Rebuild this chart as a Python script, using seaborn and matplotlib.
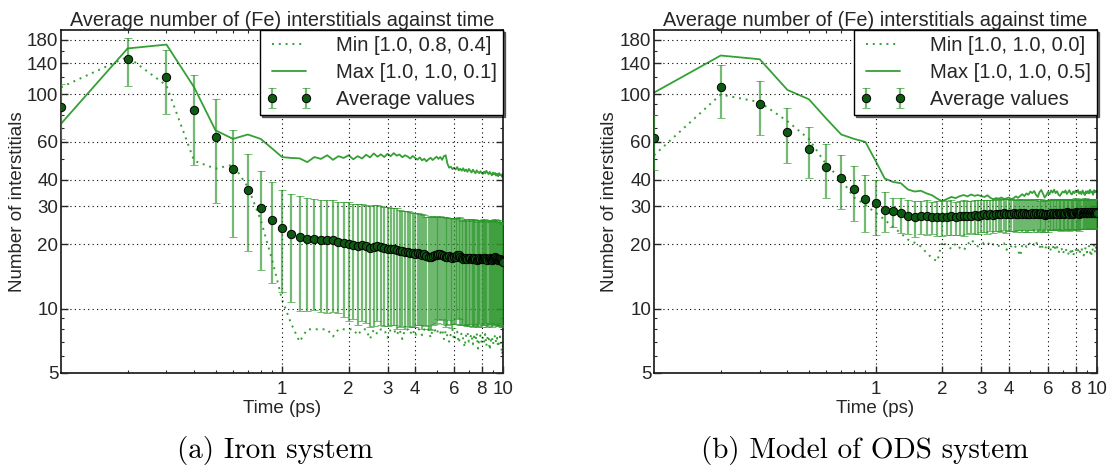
import numpy as np
import pandas as pd
import matplotlib
matplotlib.use("Agg")
import matplotlib.pyplot as plt
import matplotlib.ticker as mticker
import seaborn as sns

# time axis (ps), sampled every 0.1 ps
time_ps = np.round(np.arange(1, 101) * 0.1, 1)

# ---- (a) Iron system ----
avg_fe = [87, 147, 121, 85, 63, 45, 35.6, 29.6, 26, 23.9,
          22.4, 21.7, 21.2, 21.1, 20.8, 20.9, 20.8, 20.5, 20.2, 20.0,
          19.9, 19.6, 19.8, 19.5, 19.2, 19.4, 19.5, 19.3, 19.1, 19.0,
          19.0, 18.9, 18.7, 18.6, 18.5, 18.3, 18.4, 18.2, 18.1, 18.0,
          18.1, 18.0, 17.8, 17.9, 17.6, 17.4, 17.5, 17.6, 17.8, 17.7,
          17.9, 18.0, 17.8, 17.6, 17.5, 17.4, 17.6, 17.5, 17.3, 17.4,
          17.5, 17.7, 17.8, 17.5, 17.2, 17.1, 17.3, 17.2, 17.0, 17.2,
          17.3, 17.1, 17.0, 17.2, 17.1, 16.9, 17.0, 17.2, 17.1, 17.0,
          17.1, 17.3, 17.2, 17.0, 16.9, 17.1, 17.2, 17.0, 16.9, 17.1,
          17.2, 17.4, 17.3, 17.0, 16.8, 16.9, 17.1, 16.9, 16.6, 16.5]
err_fe = [25, 37, 40, 38, 32, 23.5, 17, 14.5, 12.8, 12,
          11.7, 12, 11.5, 11.3, 11.2, 11.4, 11.2, 11.0, 11.1, 11.3,
          11.0, 11.2, 11.1, 10.9, 11.0, 11.1, 10.8, 10.9, 10.8, 10.7,
          10.6, 10.5, 10.7, 10.4, 10.2, 10.3, 10.1, 10.0, 9.9, 9.8,
          9.7, 9.6, 9.8, 9.5, 9.3, 9.4, 9.6, 9.2, 9.3, 9.1,
          9.0, 9.2, 8.9, 9.1, 9.3, 9.0, 8.8, 9.0, 9.2, 8.9,
          9.0, 8.7, 8.9, 9.1, 8.8, 8.6, 8.9, 8.8, 8.7, 8.9,
          8.8, 8.6, 8.8, 8.9, 8.7, 8.6, 8.8, 8.7, 8.5, 8.8,
          8.7, 8.9, 8.6, 8.5, 8.7, 8.8, 8.6, 8.5, 8.7, 8.6,
          8.8, 8.9, 8.7, 8.6, 8.5, 8.6, 8.7, 8.5, 8.4, 8.3]
max_fe = [73, 164, 171, 108, 68, 62, 65, 62, 56, 51,
          50.5, 50.3, 48.3, 51, 50, 52, 49.5, 51.5, 50.5, 52,
          49.8, 51.5, 50.2, 52.3, 50.8, 53.0, 51.2, 52.5, 51.0, 52.8,
          51.5, 53.2, 51.8, 52.4, 50.9, 52.0, 51.3, 50.2, 51.6, 50.5,
          49.6, 50.8, 49.2, 50.1, 48.7, 49.8, 50.6, 49.4, 50.3, 51.2,
          50.0, 51.0, 49.5, 51.5, 52.0, 47.5, 45.5, 46.0, 44.8, 45.5,
          44.6, 45.8, 44.2, 45.0, 44.0, 45.2, 43.8, 44.6, 43.5, 44.9,
          44.0, 43.2, 44.5, 43.6, 42.8, 44.2, 43.4, 42.9, 43.8, 43.0,
          42.5, 43.6, 42.8, 44.0, 43.1, 42.4, 43.5, 42.7, 41.9, 43.2,
          42.3, 43.0, 41.8, 42.6, 41.5, 42.9, 41.9, 42.3, 41.2, 42.5]
min_fe = [108, 150, 110, 49, 45, 47, 37, 26, 17, 11,
          8.5, 7.0, 8.0, 8.0, 8.0, 8.0, 7.4, 8.0, 8.0, 8.0,
          8.0, 7.5, 8.0, 8.0, 7.2, 8.0, 7.6, 8.0, 8.0, 7.3,
          8.0, 8.0, 7.5, 8.0, 7.2, 8.0, 8.0, 7.6, 8.0, 7.4,
          8.0, 8.0, 7.5, 8.0, 7.8, 8.0, 7.3, 8.0, 8.0, 7.6,
          8.0, 7.7, 8.0, 7.2, 7.9, 7.4, 7.0, 7.6, 8.0, 7.1,
          7.5, 7.8, 6.9, 7.4, 7.7, 7.2, 6.6, 7.5, 7.8, 7.0,
          7.3, 7.6, 6.8, 7.4, 7.1, 7.7, 6.5, 7.2, 7.5, 6.9,
          7.4, 7.0, 7.6, 6.7, 7.3, 7.5, 6.4, 7.1, 7.4, 6.8,
          7.2, 7.5, 6.9, 7.3, 6.6, 7.1, 7.4, 6.7, 6.1, 6.9]

# ---- (b) Model of ODS system ----
avg_ods = [62.4, 108, 90, 67, 55.5, 46, 40.7, 36, 32.5, 31,
           29, 28.5, 27.8, 27.2, 26.8, 27.0, 27.1, 26.9, 26.8, 26.9,
           26.9, 27.0, 26.8, 27.0, 27.1, 27.0, 27.2, 27.3, 27.1, 27.4,
           27.5, 27.3, 27.6, 27.4, 27.7, 27.5, 27.6, 27.8, 27.5, 27.7,
           27.6, 27.8, 27.5, 27.7, 27.9, 27.6, 27.8, 27.5, 27.7, 27.6,
           27.8, 27.6, 27.9, 27.7, 27.5, 27.8, 27.6, 27.4, 27.7, 27.5,
           27.7, 27.9, 27.6, 27.8, 28.0, 27.7, 27.9, 27.6, 27.8, 28.0,
           27.7, 27.9, 28.1, 27.8, 27.6, 27.9, 28.0, 27.7, 27.9, 28.1,
           27.8, 28.0, 27.7, 27.9, 28.1, 27.8, 28.0, 28.2, 27.9, 28.0,
           28.1, 27.8, 28.0, 28.2, 27.9, 28.1, 27.8, 28.0, 28.2, 28.0]
err_ods = [18, 30, 25.5, 19, 15, 13, 11.5, 10.4, 9.6, 9,
           6.2, 4.5, 5.2, 4.9, 5.1, 4.8, 5.0, 4.7, 4.9, 5.1,
           4.8, 5.0, 4.7, 4.9, 5.2, 4.8, 4.6, 5.0, 4.9, 4.7,
           4.8, 5.0, 4.6, 4.9, 4.7, 4.5, 4.8, 4.6, 4.9, 4.7,
           4.5, 4.8, 4.6, 4.4, 4.7, 4.9, 4.5, 4.6, 4.8, 4.4,
           4.6, 4.7, 4.5, 4.8, 4.4, 4.6, 4.7, 4.5, 4.3, 4.6,
           4.5, 4.7, 4.4, 4.6, 4.5, 4.3, 4.6, 4.4, 4.7, 4.5,
           4.4, 4.6, 4.5, 4.3, 4.5, 4.6, 4.4, 4.5, 4.3, 4.6,
           4.5, 4.4, 4.6, 4.3, 4.5, 4.4, 4.6, 4.5, 4.3, 4.4,
           4.5, 4.3, 4.6, 4.4, 4.5, 4.3, 4.4, 4.6, 4.4, 4.5]
max_ods = [102, 152, 146, 105, 95, 77, 65, 62, 60, 49,
           40.5, 39, 38.5, 36, 35.2, 35.5, 34.5, 33.8, 32.6, 31.7,
           32.5, 33.2, 32.8, 33.5, 33.9, 33.4, 34.1, 33.6, 33.9, 33.5,
           33.2, 33.8, 32.9, 32.4, 32.8, 32.6, 33.0, 32.5, 32.7, 33.0,
           32.4, 32.8, 33.4, 32.9, 33.6, 34.2, 33.5, 34.5, 34.0, 35.2,
           34.6, 35.4, 34.0, 33.2, 35.0, 35.8, 34.4, 33.0, 33.8, 35.0,
           34.2, 35.6, 34.8, 35.9, 34.6, 35.3, 34.0, 33.6, 34.5, 35.2,
           34.8, 35.6, 34.3, 35.0, 35.7, 34.5, 34.1, 35.2, 34.6, 35.5,
           34.9, 35.8, 34.4, 35.1, 34.2, 35.6, 34.7, 33.9, 35.3, 34.6,
           35.4, 34.5, 35.9, 34.8, 35.2, 34.0, 35.7, 34.9, 35.5, 35.1]
min_ods = [52, 100, 92, 75, 62, 47, 40, 33, 30.5, 28,
           26, 24, 22.5, 21, 20.3, 19.5, 18.2, 17.2, 16.6, 20.6,
           19.6, 19.0, 20.1, 19.2, 18.7, 19.8, 21.0, 20.2, 19.5, 20.0,
           20.3, 19.8, 20.6, 19.9, 20.1, 19.6, 19.9, 20.2, 18.8, 19.7,
           19.5, 20.0, 19.3, 18.6, 17.6, 19.8, 20.1, 19.4, 20.3, 19.9,
           20.4, 19.8, 20.6, 19.6, 19.2, 20.1, 19.0, 18.8, 19.5, 18.9,
           19.8, 18.5, 19.1, 20.0, 18.7, 19.4, 18.2, 18.9, 19.3, 18.0,
           18.6, 19.2, 18.3, 17.8, 18.9, 18.4, 19.1, 17.6, 18.5, 19.0,
           18.2, 18.8, 17.9, 18.6, 19.3, 18.1, 17.7, 18.7, 19.4, 18.3,
           18.9, 19.6, 18.4, 17.5, 19.1, 18.6, 19.8, 18.2, 19.5, 19.0]

min_labels = ["Min [1.0, 0.8, 0.4]", "Min [1.0, 1.0, 0.0]"]
max_labels = ["Max [1.0, 1.0, 0.1]", "Max [1.0, 1.0, 0.5]"]
captions = ["(a) Iron system", "(b) Model of ODS system"]

x_major = [1, 2, 3, 4, 6, 8, 10]
x_minor = [0.2, 0.3, 0.4, 0.5, 0.6, 0.7, 0.8, 0.9, 5, 7, 9]
y_major = [5, 10, 20, 30, 40, 60, 100, 140, 180]
y_minor = [6, 7, 8, 9, 50, 70, 80, 90, 120, 160]

sns.set_style("ticks")
plt.rcParams["font.family"] = ["Liberation Sans", "DejaVu Sans"]
plt.rcParams["xtick.direction"] = "in"
plt.rcParams["ytick.direction"] = "in"
plt.rcParams["text.color"] = "#262626"
plt.rcParams["axes.labelcolor"] = "#262626"
plt.rcParams["xtick.labelcolor"] = "#262626"
plt.rcParams["ytick.labelcolor"] = "#262626"

LINE_GREEN = "#35a035"
BAR_GREEN = "#2a962a"
DOT_GREEN = "#0f5a12"
FS = 13.5

fig = plt.figure(figsize=(11.14, 4.74), dpi=100)
axes = [fig.add_axes([0.0548, 0.2131, 0.3968, 0.7236]),
        fig.add_axes([0.5871, 0.2131, 0.3977, 0.7236])]

datasets = [(avg_fe, err_fe, min_fe, max_fe), (avg_ods, err_ods, min_ods, max_ods)]

for i, (ax, (avg, err, mn, mx)) in enumerate(zip(axes, datasets)):
    df = pd.DataFrame({"time": time_ps, "avg": avg, "err": err, "min": mn, "max": mx})

    sns.lineplot(data=df, x="time", y="min", ax=ax, color=LINE_GREEN,
                 linestyle=(0, (1, 2.5)), linewidth=1.4, label=min_labels[i])
    sns.lineplot(data=df, x="time", y="max", ax=ax, color=LINE_GREEN,
                 linewidth=1.3, label=max_labels[i])
    eb = ax.errorbar(df["time"], df["avg"], yerr=df["err"], fmt="o",
                     color=DOT_GREEN, mfc=DOT_GREEN, mec="black", mew=0.7, ms=6,
                     ecolor=BAR_GREEN, elinewidth=1.6, capsize=3, capthick=1.3,
                     label="Average values", zorder=3)
    for art in list(eb[1]) + list(eb[2]):
        art.set_alpha(0.65)

    ax.set_xscale("log")
    ax.set_yscale("log")
    ax.set_xlim(0.1, 10)
    ax.set_ylim(5, 200)
    ax.xaxis.set_major_locator(mticker.FixedLocator(x_major))
    ax.xaxis.set_minor_locator(mticker.FixedLocator(x_minor))
    ax.yaxis.set_major_locator(mticker.FixedLocator(y_major))
    ax.yaxis.set_minor_locator(mticker.FixedLocator(y_minor))
    ax.xaxis.set_major_formatter(mticker.FixedFormatter([str(v) for v in x_major]))
    ax.xaxis.set_minor_formatter(mticker.NullFormatter())
    ax.yaxis.set_major_formatter(mticker.FixedFormatter([str(v) for v in y_major]))
    ax.yaxis.set_minor_formatter(mticker.NullFormatter())
    ax.tick_params(which="both", top=True, right=True, labelsize=FS)
    ax.tick_params(axis="x", pad=6)
    ax.tick_params(axis="y", pad=2)
    ax.tick_params(which="major", length=5, width=1)
    ax.tick_params(which="minor", length=2.5, width=0.8)

    ax.grid(True, which="major", color="black", linestyle=(0, (1, 3)), linewidth=0.8)
    ax.set_axisbelow(False)
    for sp in ax.spines.values():
        sp.set_visible(True)
        sp.set_color("black")
        sp.set_linewidth(1.1)

    ax.set_title("Average number of (Fe) interstitials against time", fontsize=14.3, pad=2)
    ax.set_xlabel("Time (ps)", fontsize=FS, labelpad=1)
    ax.set_ylabel("Number of interstitials", fontsize=FS, labelpad=1)

    leg = ax.legend(loc="upper right", borderaxespad=0, fontsize=14.5, numpoints=2,
                    frameon=True, fancybox=False,
                    shadow={"ox": 1.5, "oy": -1.5, "color": "black", "alpha": 0.55},
                    handlelength=2.3, labelspacing=0.4, borderpad=0.3, handletextpad=1.2)
    leg.get_frame().set_edgecolor("black")
    leg.get_frame().set_linewidth(1.0)

# subfigure captions in Computer Modern
fig.text(0.247, 0.05, captions[0], ha="center", va="center", family="cmr10",
         fontsize=21, color="black")
fig.text(0.7765, 0.05, captions[1], ha="center", va="center", family="cmr10",
         fontsize=21, color="black")

fig.savefig("out.png", dpi=100)
